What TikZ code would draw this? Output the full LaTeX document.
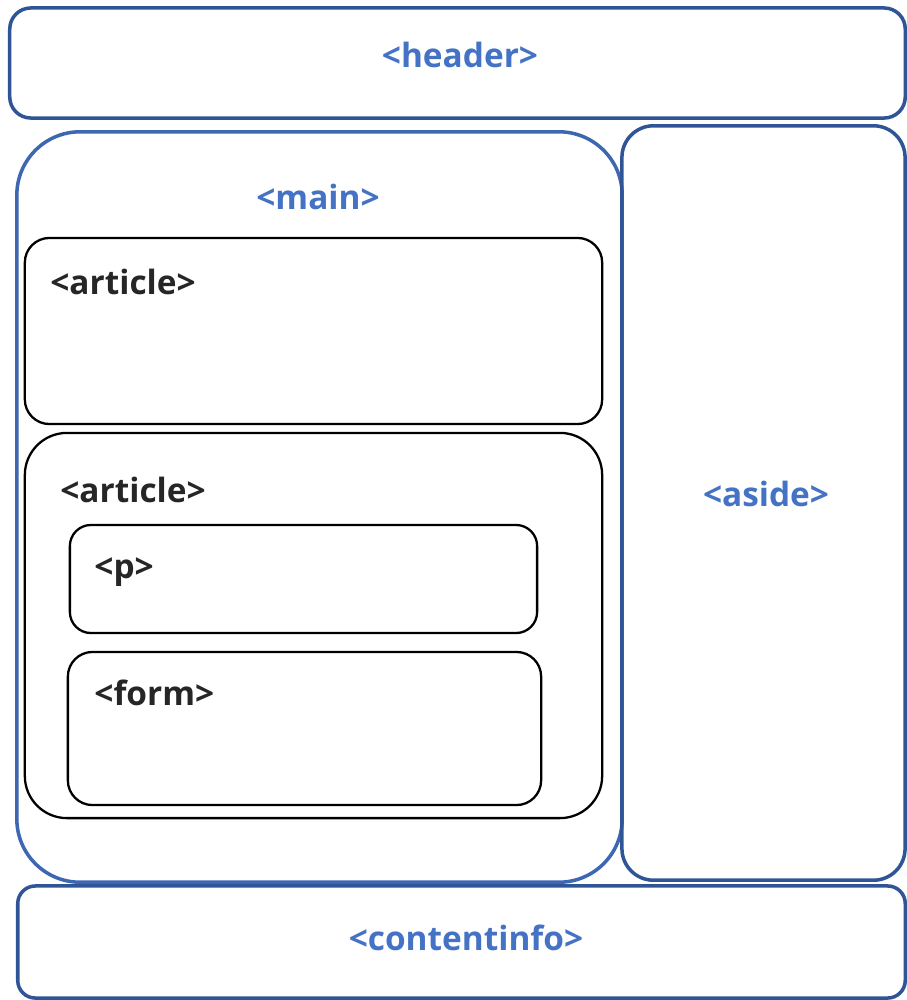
\documentclass[tikz,border=0pt]{standalone}
\usepackage{fontspec}
\setmainfont{Open Sans}
\definecolor{tagblue}{HTML}{4472C4}
\definecolor{lineblue}{HTML}{2F5597}
\definecolor{tagdark}{HTML}{262626}
\begin{document}
\begin{tikzpicture}[x=0.01cm, y=-0.01cm,
        bluebox/.style={draw=lineblue, line width=1pt},
        blackbox/.style={draw=black, line width=0.65pt},
        bluetag/.style={text=tagblue, font=\fontsize{9.5}{11}\selectfont\bfseries},
        blacktag/.style={text=tagdark, font=\fontsize{9.5}{11}\selectfont\bfseries, anchor=west}]
    \useasboundingbox (0,0) rectangle (907,1000);
    % outer layout
    \node[bluebox, rounded corners=6pt, minimum width=8.95cm, minimum height=1.1cm] (header) at (457.5,63) {};
    \node[bluebox, draw=tagblue!90!black, rounded corners=18pt, minimum width=6.05cm, minimum height=7.5cm] (main) at (319.5,507) {};
    \node[bluebox, rounded corners=9pt, minimum width=2.83cm, minimum height=7.54cm] (aside) at (763.5,503) {};
    \node[bluebox, rounded corners=5pt, minimum width=8.87cm, minimum height=1.12cm] (contentinfo) at (461.5,942) {};
    % inner boxes
    \node[blackbox, rounded corners=7pt, minimum width=5.77cm, minimum height=1.86cm] (art1) at (313.5,331) {};
    \node[blackbox, rounded corners=12pt, minimum width=5.77cm, minimum height=3.85cm] (art2) at (313.5,625.5) {};
    \node[blackbox, rounded corners=6pt, minimum width=4.67cm, minimum height=1.08cm] (para) at (303.5,579) {};
    \node[blackbox, rounded corners=7pt, minimum width=4.73cm, minimum height=1.53cm] (form) at (304.5,728.5) {};
    % labels
    \node[bluetag] (headertag) at (460,55) {<header>};
    \node[bluetag] (maintag) at (318,197) {<main>};
    \node[bluetag] (asidetag) at (766,494) {<aside>};
    \node[bluetag] (contenttag) at (466,938) {<contentinfo>};
    \node[blacktag] (art1tag) at (38,282) {<article>};
    \node[blacktag] (art2tag) at (48,490) {<article>};
    \node[blacktag] (paratag) at (82,572) {<p>};
    \node[blacktag] (formtag) at (82,693) {<form>};
\end{tikzpicture}
\end{document}
